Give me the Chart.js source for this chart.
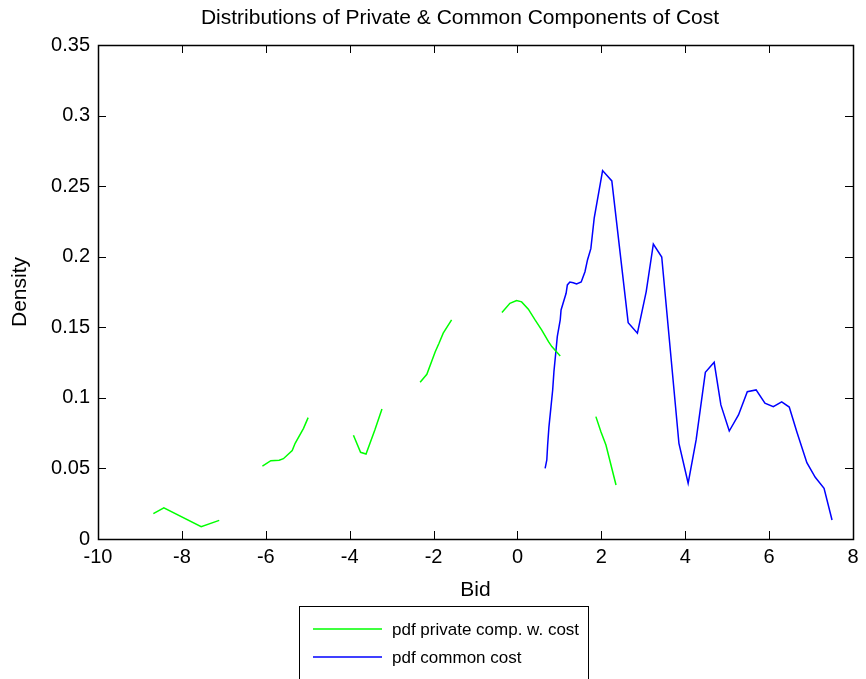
<!DOCTYPE html>
<html>
<head>
<meta charset="utf-8">
<script src="https://cdn.jsdelivr.net/npm/chart.js@4/dist/chart.umd.min.js"></script>
<style>
  html, body { margin: 0; padding: 0; background: #fff; }
  #wrap { width: 866px; height: 679px; }
</style>
</head>
<body>
<div id="wrap"><canvas id="myChart" width="866" height="679"></canvas></div>
<script>
// private component density, null = gap in the curve
const privX = [-8.68, -8.43, -7.54, -7.11, -6.6,
  -6.08, -5.88, -5.68, -5.58, -5.37, -5.30, -5.10, -4.99, -4.5,
  -3.91, -3.74, -3.61, -3.40, -3.23, -2.8,
  -2.32, -2.16, -1.96, -1.87, -1.77, -1.57, -1.0,
  -0.37, -0.18, -0.02, 0.10, 0.26, 0.42, 0.58, 0.74, 0.82, 1.02, 1.5,
  1.87, 1.99, 2.11, 2.35];
const privY = [0.018, 0.022, 0.0087, 0.0132, null,
  0.0517, 0.0555, 0.0558, 0.0569, 0.0626, 0.0678, 0.0784, 0.086, null,
  0.0735, 0.0614, 0.0602, 0.0772, 0.0921, null,
  0.111, 0.1167, 0.1327, 0.1387, 0.1458, 0.1552, null,
  0.1604, 0.167, 0.1689, 0.168, 0.1628, 0.1552, 0.148, 0.1398, 0.1363, 0.1297, null,
  0.0867, 0.076, 0.0666, 0.0383];

// common cost density
const commonX = [0.66, 0.70, 0.72, 0.75, 0.80, 0.84, 0.87, 0.92, 0.95, 1.02, 1.04,
  1.16, 1.19, 1.25, 1.33, 1.41, 1.52, 1.61, 1.67, 1.75, 1.83, 2.03, 2.25,
  2.64, 2.86, 3.07, 3.24, 3.44, 3.85, 4.07, 4.26, 4.48, 4.69, 4.85, 5.05,
  5.27, 5.48, 5.69, 5.90, 6.10, 6.30, 6.48, 6.66, 6.90, 7.10, 7.31, 7.50];
const commonY = [0.0501, 0.056, 0.0666, 0.0791, 0.0938, 0.1056, 0.1186, 0.1339, 0.1434, 0.1552, 0.1623,
  0.1741, 0.18, 0.1821, 0.1816, 0.1807, 0.1821, 0.1894, 0.1977, 0.2057, 0.2273, 0.261, 0.2537,
  0.1533, 0.1458, 0.1753, 0.209, 0.1998, 0.0678, 0.0395, 0.0702, 0.1181, 0.1252, 0.095, 0.0765,
  0.0879, 0.1044, 0.1056, 0.0962, 0.0938, 0.0971, 0.0935, 0.076, 0.0541, 0.0437, 0.0359, 0.0135];

const xTicks = [-10, -8, -6, -4, -2, 0, 2, 4, 6, 8];
const yTicks = [0, 0.05, 0.1, 0.15, 0.2, 0.25, 0.3, 0.35];
const titleText = 'Distributions of Private & Common Components of Cost';

const FONT = "'Liberation Sans', Arial, sans-serif";

function toPoints(xs, ys) {
  return xs.map((x, i) => ({x: x, y: ys[i]}));
}

// matlab style box, inward ticks, title and boxed legend
const matlabBox = {
  id: 'matlabBox',
  afterDraw(chart) {
    const ctx = chart.ctx;
    const a = chart.chartArea;
    const xs = chart.scales.x, ys = chart.scales.y;
    const tl = 8;
    ctx.save();
    ctx.strokeStyle = '#000';
    ctx.lineWidth = 1;
    ctx.beginPath();
    xTicks.forEach(v => {
      const px = Math.round(xs.getPixelForValue(v)) + 0.5;
      ctx.moveTo(px, a.bottom); ctx.lineTo(px, a.bottom - tl);
      ctx.moveTo(px, a.top); ctx.lineTo(px, a.top + tl);
    });
    yTicks.forEach(v => {
      const py = Math.round(ys.getPixelForValue(v)) + 0.5;
      ctx.moveTo(a.left, py); ctx.lineTo(a.left + tl, py);
      ctx.moveTo(a.right, py); ctx.lineTo(a.right - tl, py);
    });
    ctx.stroke();
    ctx.lineWidth = 1.5;
    ctx.strokeRect(Math.round(a.left) + 0.5, Math.round(a.top) + 0.5,
      Math.round(a.right - a.left), Math.round(a.bottom - a.top));

    // title
    ctx.fillStyle = '#000';
    ctx.font = '21px ' + FONT;
    ctx.textAlign = 'center';
    ctx.textBaseline = 'middle';
    ctx.fillText(titleText, 460, 18);

    // legend
    ctx.font = '17px ' + FONT;
    ctx.textAlign = 'left';
    const items = chart.data.datasets;
    const tw = Math.max(...items.map(d => ctx.measureText(d.label).width));
    const bx = 299.5, by = 606.5;
    const bw = Math.round(392 - 299 + tw + 9);
    ctx.fillStyle = '#fff';
    ctx.fillRect(bx, by, bw, 100);
    ctx.strokeStyle = '#000';
    ctx.lineWidth = 1;
    ctx.strokeRect(bx, by, bw, 100);
    items.forEach((d, i) => {
      const y = 629 + i * 28;
      ctx.strokeStyle = d.borderColor;
      ctx.lineWidth = 1.5;
      ctx.beginPath();
      ctx.moveTo(313, y); ctx.lineTo(382, y);
      ctx.stroke();
      ctx.fillStyle = '#000';
      ctx.fillText(d.label, 392, y + 1);
    });
    ctx.restore();
  }
};

const ctx = document.getElementById('myChart').getContext('2d');
const myChart = new Chart(ctx, {
  type: 'line',
  data: {
    datasets: [{
      label: 'pdf private comp. w. cost',
      data: toPoints(privX, privY),
      borderColor: 'rgb(0, 255, 0)',
      backgroundColor: 'rgb(0, 255, 0)',
      borderWidth: 1.5,
      pointRadius: 0,
      spanGaps: false,
      fill: false,
      tension: 0
    }, {
      label: 'pdf common cost',
      data: toPoints(commonX, commonY),
      borderColor: 'rgb(0, 0, 255)',
      backgroundColor: 'rgb(0, 0, 255)',
      borderWidth: 1.5,
      pointRadius: 0,
      fill: false,
      tension: 0
    }]
  },
  options: {
    responsive: false,
    animation: false,
    layout: { padding: { left: 0, right: 13, top: 45, bottom: 76 } },
    plugins: {
      legend: { display: false },
      tooltip: { enabled: false },
      title: { display: false }
    },
    scales: {
      x: {
        type: 'linear',
        min: -10, max: 8,
        afterFit(scale) { scale.height = 64; },
        afterBuildTicks(scale) { scale.ticks = xTicks.map(v => ({value: v})); },
        grid: { display: false, drawTicks: false },
        border: { display: false },
        ticks: { color: '#000', padding: 6, font: { family: FONT, size: 20 }, maxRotation: 0 },
        title: { display: true, text: 'Bid', color: '#000', padding: 0, font: { family: FONT, size: 21 } }
      },
      y: {
        type: 'linear',
        min: 0, max: 0.35,
        afterFit(scale) { scale.width = 98; },
        afterBuildTicks(scale) { scale.ticks = yTicks.map(v => ({value: v})); },
        grid: { display: false, drawTicks: false },
        border: { display: false },
        ticks: {
          color: '#000', padding: 8, font: { family: FONT, size: 20 },
          callback: v => String(+v.toFixed(2))
        },
        title: { display: true, text: 'Density', color: '#000', padding: { top: 8, bottom: 0 }, font: { family: FONT, size: 21 } }
      }
    }
  },
  plugins: [matlabBox]
});
</script>
</body>
</html>
